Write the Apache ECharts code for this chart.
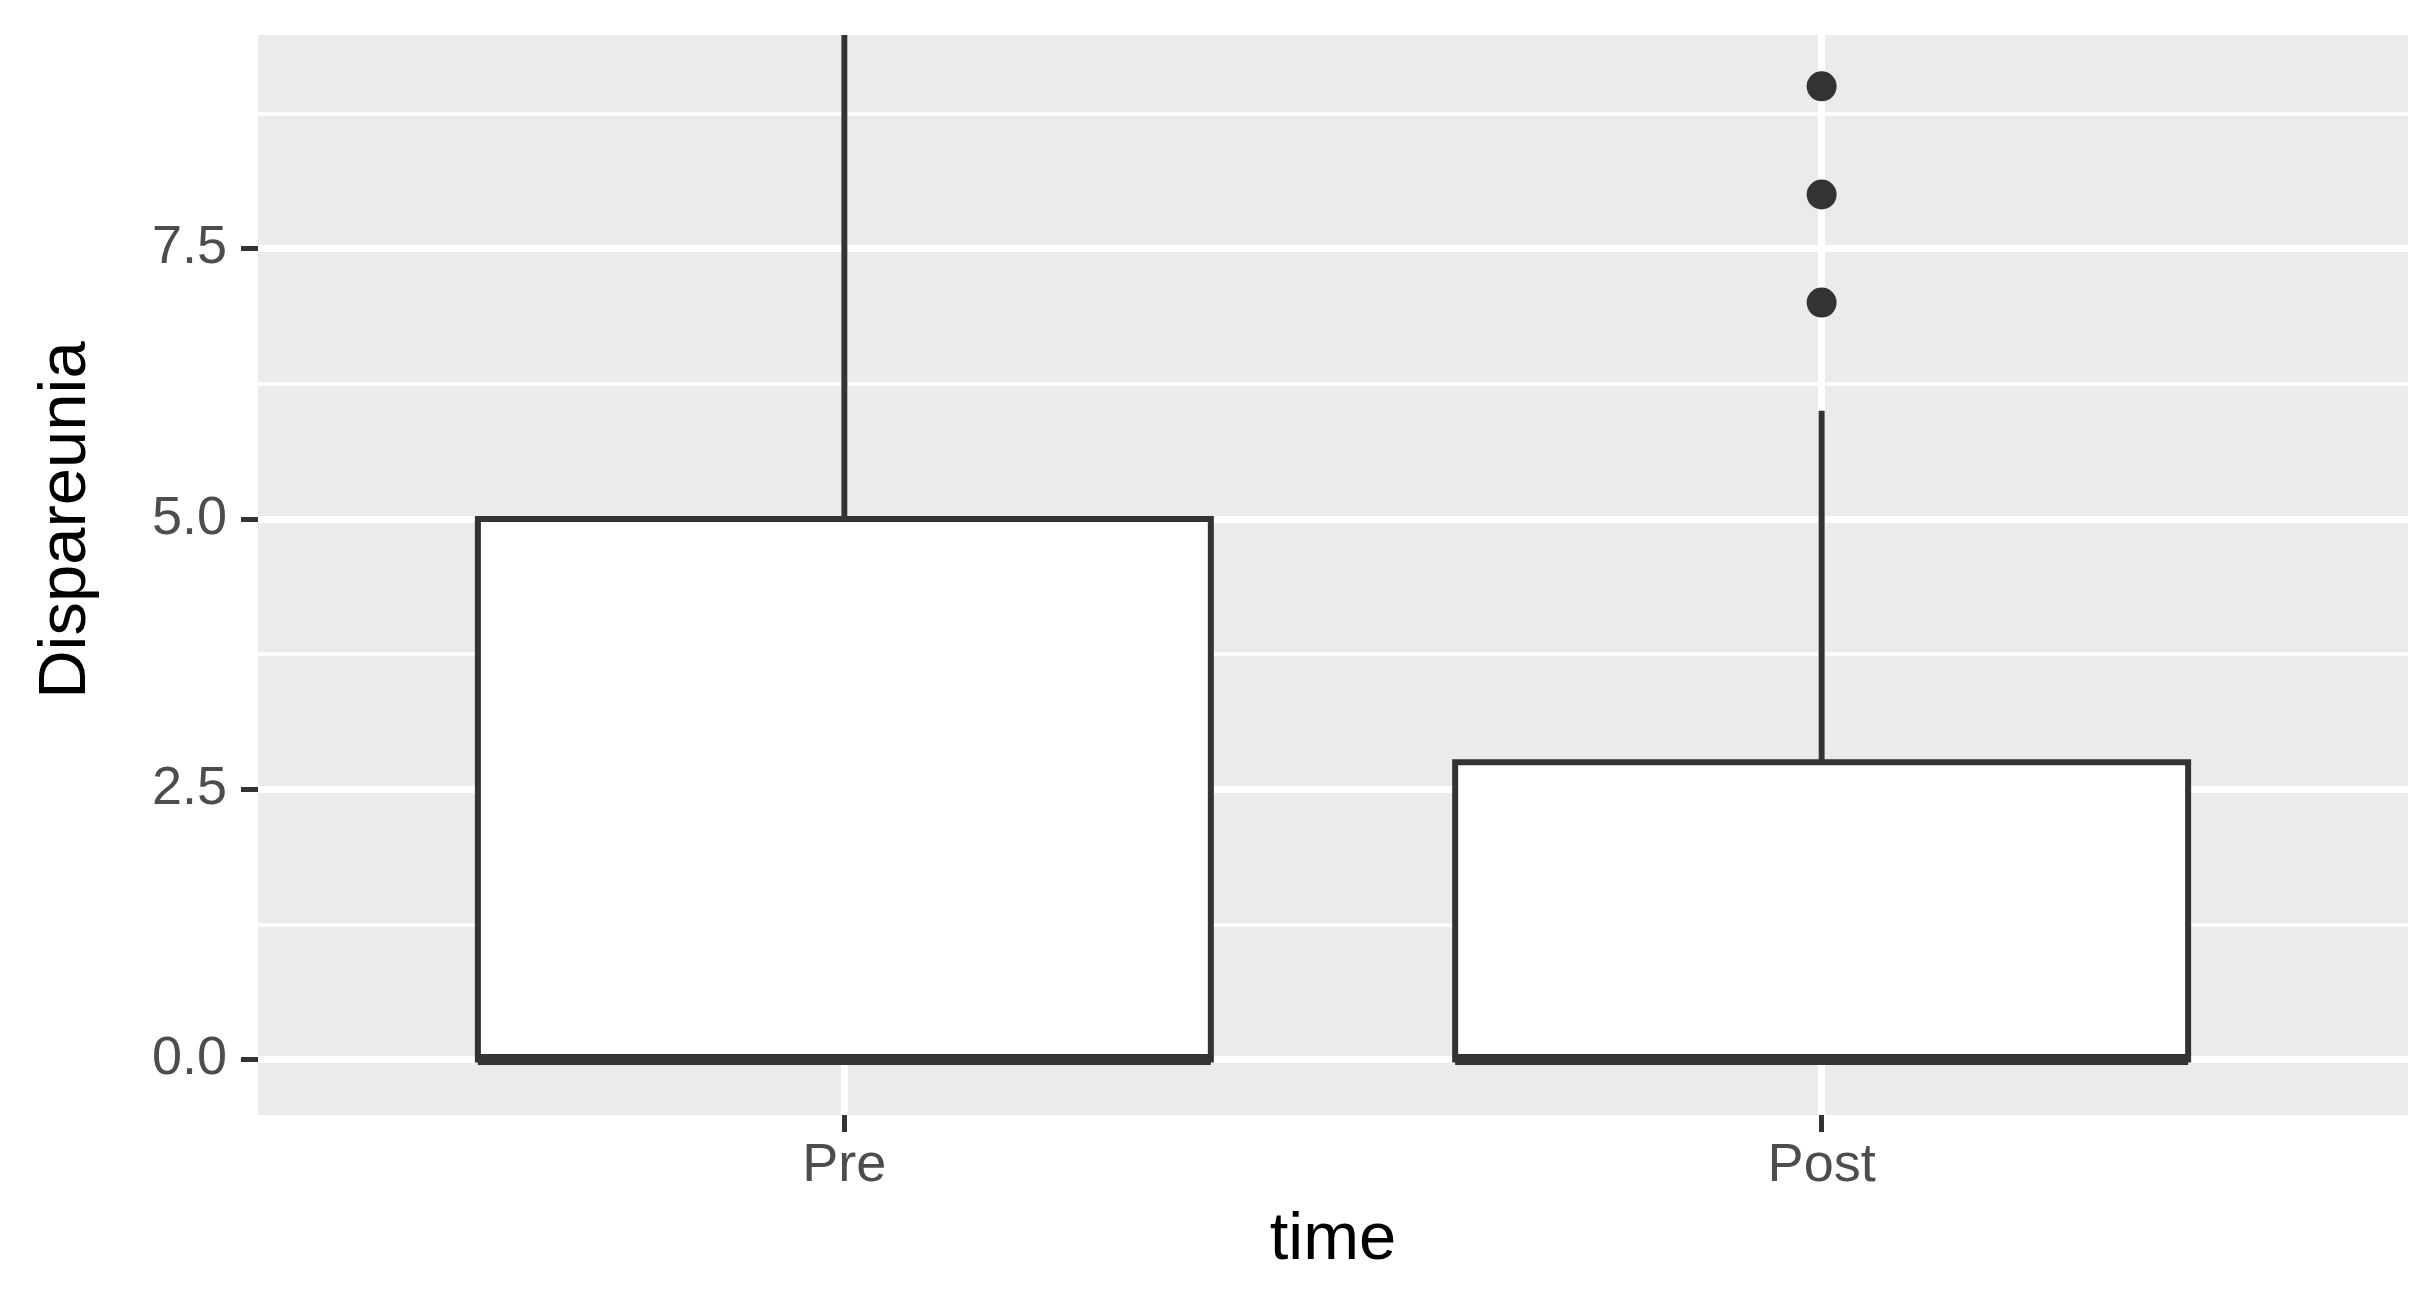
<!DOCTYPE html>
<html>
<head>
<meta charset="utf-8">
<script src="https://cdn.jsdelivr.net/npm/echarts@6/dist/echarts.min.js"></script>
<style>
  html, body { margin: 0; padding: 0; background: #fff; }
  #chart { width: 2436px; height: 1292px; }
</style>
</head>
<body>
<div id="chart"></div>
<script>
// categories and where they sit on the x scale
const categories = ['Pre', 'Post'];
const catPos = [1, 2];
// per category: [lower whisker, q1, median, q3, upper whisker]
const boxStats = [
  [0, 0, 0, 5, 10],
  [0, 0, 0, 2.75, 6]
];
// outlier points
const outlierPos = [2, 2, 2];
const outlierVals = [7, 8, 9];
// y ticks
const yMajor = [0, 2.5, 5, 7.5];
const yMinor = [1.25, 3.75, 6.25, 8.75];
const yMin = -0.513, yMax = 9.475;

const chart = echarts.init(document.getElementById('chart'));

const boxData = boxStats.map((s, i) => [catPos[i]].concat(s));
const outlierData = outlierVals.map((v, i) => [outlierPos[i], v]);

function renderBox(params, api) {
  const x = api.value(0);
  const lo = api.value(1), q1 = api.value(2), med = api.value(3), q3 = api.value(4), hi = api.value(5);
  const half = 0.375; // ggplot default width 0.75
  const cs = params.coordSys;
  const tl = api.coord([x - half, q3]);
  const br = api.coord([x + half, q1]);
  const cx = api.coord([x, 0])[0];
  const top = Math.max(api.coord([x, hi])[1], cs.y);
  const bottom = Math.min(api.coord([x, lo])[1], cs.y + cs.height);
  const ml = api.coord([x - half, med]);
  const mr = api.coord([x + half, med]);
  const line = { stroke: '#333333', lineWidth: 6, lineCap: 'butt' };
  return {
    type: 'group',
    children: [
      { type: 'line', shape: { x1: cx, y1: tl[1], x2: cx, y2: top }, style: line },
      { type: 'line', shape: { x1: cx, y1: br[1], x2: cx, y2: bottom }, style: line },
      {
        type: 'rect',
        shape: { x: tl[0], y: tl[1], width: br[0] - tl[0], height: br[1] - tl[1] },
        style: { fill: '#ffffff', stroke: '#333333', lineWidth: 6, lineJoin: 'miter' }
      },
      { type: 'line', shape: { x1: ml[0], y1: ml[1], x2: mr[0], y2: mr[1] }, style: { stroke: '#333333', lineWidth: 11, lineCap: 'butt' } }
    ]
  };
}

const option = {
  animation: false,
  backgroundColor: '#ffffff',
  textStyle: { fontFamily: 'Liberation Sans' },
  grid: {
    left: 258, right: 28, top: 35, bottom: 177,
    show: true, backgroundColor: '#EBEBEB', borderWidth: 0,
    containLabel: false, outerBoundsMode: 'none'
  },
  xAxis: {
    type: 'value',
    min: 0.4, max: 2.6,
    name: 'time',
    nameLocation: 'middle',
    nameGap: 92,
    nameTextStyle: { fontSize: 67, color: '#000000', fontFamily: 'Liberation Sans' },
    axisLine: { show: false, onZero: false },
    axisTick: { show: true, length: 17, customValues: catPos, lineStyle: { color: '#333333', width: 5 } },
    axisLabel: {
      customValues: catPos,
      margin: 24,
      fontSize: 54,
      color: '#4D4D4D',
      fontFamily: 'Liberation Sans',
      formatter: v => categories[catPos.indexOf(v)]
    },
    splitLine: { show: true, lineStyle: { color: '#ffffff', width: 7 } }
  },
  yAxis: [
    {
      type: 'value',
      min: yMin, max: yMax,
      position: 'left',
      axisLine: { show: false, onZero: false },
      axisTick: { show: true, length: 17, customValues: yMajor, lineStyle: { color: '#333333', width: 5 } },
      axisLabel: {
        customValues: yMajor,
        margin: 31,
        fontSize: 54,
        color: '#4D4D4D',
        fontFamily: 'Liberation Sans',
        formatter: v => v.toFixed(1)
      },
      splitLine: { show: true, lineStyle: { color: '#ffffff', width: 7 } }
    },
    {
      type: 'value',
      min: yMin, max: yMax,
      position: 'left',
      axisLine: { show: false, onZero: false },
      axisTick: { show: false, customValues: yMinor },
      axisLabel: { show: false, customValues: yMinor },
      splitLine: { show: true, lineStyle: { color: '#ffffff', width: 3.5 } }
    }
  ],
  graphic: [
    {
      type: 'text',
      x: 67, y: 520,
      rotation: Math.PI / 2,
      style: {
        text: 'Dispareunia',
        fontSize: 67,
        fontFamily: 'Liberation Sans',
        fill: '#000000',
        align: 'center',
        verticalAlign: 'middle'
      }
    }
  ],
  series: [
    {
      type: 'custom',
      name: 'box',
      clip: true,
      renderItem: renderBox,
      encode: { x: 0, y: [1, 2, 3, 4, 5] },
      data: boxData,
      z: 3
    },
    {
      type: 'scatter',
      name: 'outliers',
      symbol: 'circle',
      symbolSize: 30,
      itemStyle: { color: '#333333', opacity: 1 },
      data: outlierData,
      z: 4
    }
  ]
};

chart.setOption(option);
</script>
</body>
</html>
